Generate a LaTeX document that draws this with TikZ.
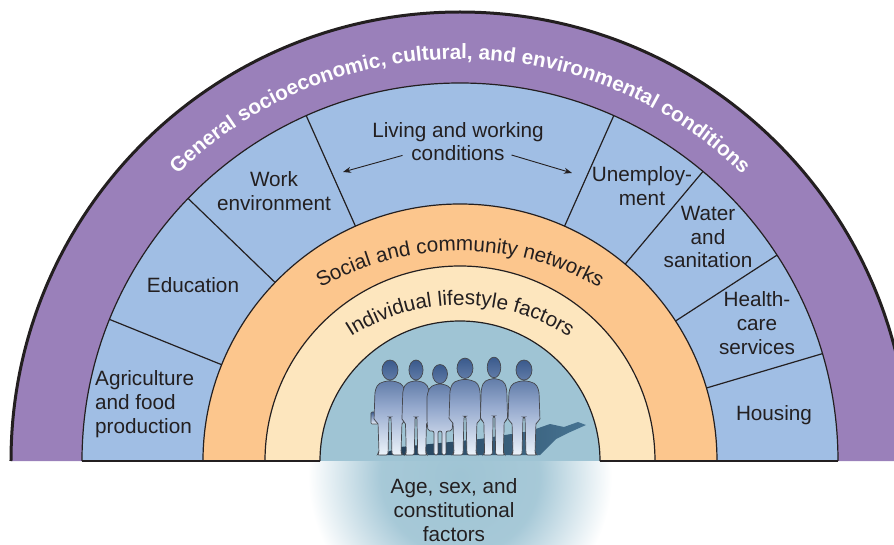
\documentclass[tikz,border=0pt]{standalone}
\usepackage{fontspec}
\setmainfont{Liberation Sans}
\usetikzlibrary{positioning, arrows.meta, decorations.text}

\definecolor{purplering}{RGB}{154,128,186}
\definecolor{bluering}{RGB}{160,190,228}
\definecolor{orangering}{RGB}{252,198,141}
\definecolor{creamring}{RGB}{253,230,190}
\definecolor{tealcore}{RGB}{159,196,212}
\definecolor{inkc}{RGB}{35,31,32}
\definecolor{figdark}{RGB}{58,90,140}
\definecolor{figmid}{RGB}{150,170,206}
\definecolor{figlight}{RGB}{236,243,250}
\definecolor{figedge}{RGB}{70,72,78}
\definecolor{shadowdark}{RGB}{18,44,70}
\definecolor{shadowlight}{RGB}{62,108,140}

% soft glow under the core
\pgfdeclareradialshading{agefade}{\pgfpoint{0bp}{0bp}}{color(0bp)=(tealcore); color(13bp)=(tealcore!92!white); color(25bp)=(white); color(50bp)=(white)}

% standing people, feet at the origin
\newcommand{\manfig}[2][]{%
  \begin{scope}[shift={(#2,6)}, #1]
    \shade[figure] (0,85) ellipse[x radius=8, y radius=10]
      (-4,74) -- (-12,71) -- (-15,64) -- (-16,34) -- (-12,33) -- (-11,2) -- (-13,0) -- (-2,0)
      -- (-1,38) -- (1,38) -- (2,0) -- (13,0) -- (11,2) -- (12,33) -- (16,34) -- (15,64)
      -- (12,71) -- (4,74) -- cycle;
  \end{scope}}
\newcommand{\womanfig}[2][]{%
  \begin{scope}[shift={(#2,6)}, #1]
    \shade[figure] (0,81) ellipse[x radius=7.5, y radius=9.5]
      (-3,71) -- (-10,68) -- (-13,60) -- (-13,34) -- (-12,24) -- (-6,24) -- (-6,0) -- (-2,0)
      -- (-2,24) -- (2,24) -- (2,0) -- (6,0) -- (6,24) -- (12,24) -- (13,34) -- (13,60)
      -- (10,68) -- (3,71) -- cycle;
  \end{scope}}

\begin{document}
\begin{tikzpicture}[
    x=1pt, y=1pt,
    % Styles
    lbl/.style={font=\fontsize{20.7}{23.7}\selectfont, text=inkc, align=center, inner sep=0pt},
    ringline/.style={draw=inkc, line width=1.2pt},
    divider/.style={draw=inkc, line width=1.2pt},
    lwarrow/.style={-{Stealth[length=8pt, width=6pt]}, draw=inkc, line width=0.9pt},
    figure/.style={top color=figdark, bottom color=figlight, middle color=figmid, draw=figedge, line width=0.7pt, rounded corners=2pt},
]
\useasboundingbox (-460,-83) rectangle (434,461);
\clip (-460,-83) rectangle (434,461);

% Rings, outermost first
\fill[purplering] (-449,0) arc[start angle=180, end angle=0, radius=449] -- cycle;
\fill[bluering] (-378,0) arc[start angle=180, end angle=0, radius=378] -- cycle;
\fill[orangering] (-257,0) arc[start angle=180, end angle=0, radius=257] -- cycle;
\fill[creamring] (-195,0) arc[start angle=180, end angle=0, radius=195] -- cycle;
\fill[tealcore] (-140,0) arc[start angle=180, end angle=0, radius=140] -- cycle;

% Glow below the base line
\begin{scope}
    \clip (-170,0) rectangle (170,-83);
    \shade[shading=agefade] (0,-15) circle[radius=152];
\end{scope}

% Ring outlines
\draw[draw=inkc, line width=3pt] (-449,0) arc[start angle=180, end angle=0, radius=449];
\draw[ringline] (-378,0) arc[start angle=180, end angle=0, radius=378];
\draw[ringline] (-257,0) arc[start angle=180, end angle=0, radius=257];
\draw[ringline] (-195,0) arc[start angle=180, end angle=0, radius=195];
\draw[ringline] (-140,0) arc[start angle=180, end angle=0, radius=140];
\draw[ringline] (-378,0) -- (-140,0);
\draw[ringline] (140,0) -- (378,0);

% Sector dividers
\foreach \a in {16.5, 33, 50, 66, 114, 136, 158}
    \draw[divider] (\a:257) -- (\a:378);

% Curved ring titles
\path[decorate, decoration={text along path, text align=center,
    text={|\fontsize{20.7}{24}\selectfont\bfseries\color{white}|General socioeconomic, cultural, and environmental conditions}}]
    (-402,0) arc[start angle=180, end angle=0, radius=402];
\path[decorate, decoration={text along path, text align=center,
    text={|\fontsize{20.7}{24}\selectfont\color{inkc}|Social and community networks}}]
    (-282,-72) arc[start angle=180, end angle=0, radius=282];
\path[decorate, decoration={text along path, text align=center,
    text={|\fontsize{20.7}{24}\selectfont\color{inkc}|Individual lifestyle factors}}]
    (-202,-46) arc[start angle=180, end angle=0, radius=202];

% Sector labels
\node[lbl] (living) at (-2, 329) {Living and working};
\node[lbl] (conditions) at (-2, 308) {conditions};
\node[lbl] (work) at (-186, 270) {Work\\environment};
\node[lbl] (education) at (-267, 176) {Education};
\node[lbl, anchor=west, align=left] (agriculture) at (-365, 57) {Agriculture\\and food\\production};
\node[lbl] (unemployment) at (182, 275) {Unemploy-\\ment};
\node[lbl] (water) at (248, 224) {Water\\and\\sanitation};
\node[lbl] (health) at (297, 138) {Health-\\care\\services};
\node[lbl] (housing) at (314, 46) {Housing};
\node[lbl] (age) at (-6, -49) {Age, sex, and\\constitutional\\factors};

% Arrows to both work sectors
\coordinate (lwleft) at (-117, 289);
\coordinate (lwright) at (112, 288);
\draw[lwarrow, shorten <=9pt] (conditions.west) -- (lwleft);
\draw[lwarrow, shorten <=7pt] (conditions.east) -- (lwright);

% People and their shadow
\shade[left color=shadowdark, right color=shadowlight, opacity=0.9]
    (-80,6) -- (80,6) -- (96,22) -- (108,28) -- (126,36) -- (118,39) -- (104,34)
    -- (90,37) -- (70,30) -- (20,22) -- (-60,14) -- cycle;
\shade[figure, rounded corners=1pt] (-89,37) rectangle (-82,49);
\manfig{-70}
\manfig[xscale=0.88]{-44}
\womanfig{-20}
\manfig[yscale=1.02]{5}
\manfig[xscale=0.85, yscale=1.03]{34}
\manfig{64}

\end{tikzpicture}
\end{document}
